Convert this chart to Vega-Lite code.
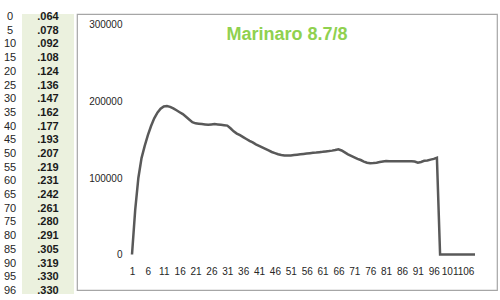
{
  "$schema": "https://vega.github.io/schema/vega-lite/v6.json",
  "padding": {"left": 0, "top": 11, "right": 4, "bottom": 0},
  "spacing": 2,
  "background": "white",
  "config": {"font": "Liberation Sans", "view": {"stroke": null}, "axis": {"labelOverlap": false, "labelFlush": false}},
  "datasets": {
    "table": [
      {"level": "0", "value": ".064"},
      {"level": "5", "value": ".078"},
      {"level": "10", "value": ".092"},
      {"level": "15", "value": ".108"},
      {"level": "20", "value": ".124"},
      {"level": "25", "value": ".136"},
      {"level": "30", "value": ".147"},
      {"level": "35", "value": ".162"},
      {"level": "40", "value": ".177"},
      {"level": "45", "value": ".193"},
      {"level": "50", "value": ".207"},
      {"level": "55", "value": ".219"},
      {"level": "60", "value": ".231"},
      {"level": "65", "value": ".242"},
      {"level": "70", "value": ".261"},
      {"level": "75", "value": ".280"},
      {"level": "80", "value": ".291"},
      {"level": "85", "value": ".305"},
      {"level": "90", "value": ".319"},
      {"level": "95", "value": ".330"},
      {"level": "96", "value": ".330"}
    ],
    "series": [
      {"t": 1, "v": 0}, {"t": 2, "v": 58000}, {"t": 3, "v": 100000}, {"t": 4, "v": 126000},
      {"t": 5, "v": 142000}, {"t": 6, "v": 156000}, {"t": 7, "v": 168000}, {"t": 8, "v": 178000},
      {"t": 9, "v": 185500}, {"t": 10, "v": 190500}, {"t": 11, "v": 193500}, {"t": 12, "v": 194000},
      {"t": 13, "v": 193000}, {"t": 14, "v": 191000}, {"t": 15, "v": 188500}, {"t": 16, "v": 186000},
      {"t": 17, "v": 183500}, {"t": 18, "v": 180000}, {"t": 19, "v": 176500}, {"t": 20, "v": 173000},
      {"t": 21, "v": 171500}, {"t": 22, "v": 171000}, {"t": 23, "v": 170500}, {"t": 24, "v": 170000},
      {"t": 25, "v": 169500}, {"t": 26, "v": 170000}, {"t": 27, "v": 170500}, {"t": 28, "v": 170000},
      {"t": 29, "v": 169500}, {"t": 30, "v": 169000}, {"t": 31, "v": 168500}, {"t": 32, "v": 165000},
      {"t": 33, "v": 161000}, {"t": 34, "v": 158000}, {"t": 35, "v": 156000}, {"t": 36, "v": 153500},
      {"t": 37, "v": 151000}, {"t": 38, "v": 148500}, {"t": 39, "v": 146500}, {"t": 40, "v": 144000},
      {"t": 41, "v": 142000}, {"t": 42, "v": 140000}, {"t": 43, "v": 138000}, {"t": 44, "v": 136000},
      {"t": 45, "v": 134000}, {"t": 46, "v": 132500}, {"t": 47, "v": 131000}, {"t": 48, "v": 130000},
      {"t": 49, "v": 129500}, {"t": 50, "v": 129300}, {"t": 51, "v": 129500}, {"t": 52, "v": 130000},
      {"t": 53, "v": 130500}, {"t": 54, "v": 131000}, {"t": 55, "v": 131500}, {"t": 56, "v": 132000},
      {"t": 57, "v": 132500}, {"t": 58, "v": 133000}, {"t": 59, "v": 133300}, {"t": 60, "v": 133800},
      {"t": 61, "v": 134200}, {"t": 62, "v": 134700}, {"t": 63, "v": 135200}, {"t": 64, "v": 135800},
      {"t": 65, "v": 136500}, {"t": 66, "v": 137500}, {"t": 67, "v": 136000}, {"t": 68, "v": 133500},
      {"t": 69, "v": 131000}, {"t": 70, "v": 129000}, {"t": 71, "v": 127000}, {"t": 72, "v": 125000},
      {"t": 73, "v": 123500}, {"t": 74, "v": 121500}, {"t": 75, "v": 120000}, {"t": 76, "v": 119200},
      {"t": 77, "v": 119500}, {"t": 78, "v": 120000}, {"t": 79, "v": 120800}, {"t": 80, "v": 121500},
      {"t": 81, "v": 122200}, {"t": 82, "v": 122000}, {"t": 83, "v": 122000}, {"t": 84, "v": 121800},
      {"t": 85, "v": 122000}, {"t": 86, "v": 122000}, {"t": 87, "v": 121800}, {"t": 88, "v": 122000},
      {"t": 89, "v": 121800}, {"t": 90, "v": 121500}, {"t": 91, "v": 120000}, {"t": 92, "v": 121000},
      {"t": 93, "v": 122500}, {"t": 94, "v": 123000}, {"t": 95, "v": 124000}, {"t": 96, "v": 125000},
      {"t": 97, "v": 126500}, {"t": 98, "v": 0}, {"t": 99, "v": 0}, {"t": 100, "v": 0},
      {"t": 101, "v": 0}, {"t": 102, "v": 0}, {"t": 103, "v": 0}, {"t": 104, "v": 0},
      {"t": 105, "v": 0}, {"t": 106, "v": 0}, {"t": 107, "v": 0}, {"t": 108, "v": 0},
      {"t": 109, "v": 0}
    ]
  },
  "hconcat": [
    {
      "width": 20,
      "height": 280,
      "data": {"name": "table"},
      "view": {"stroke": null},
      "mark": {"type": "text", "fontSize": 11, "color": "#262626", "align": "center", "baseline": "middle"},
      "encoding": {
        "y": {"field": "level", "type": "ordinal", "sort": null, "axis": null, "scale": {"type": "point", "padding": 0.22}},
        "text": {"field": "level"}
      }
    },
    {
      "width": 52,
      "height": 280,
      "data": {"name": "table"},
      "view": {"stroke": null, "fill": "#ebf1de"},
      "mark": {"type": "text", "fontSize": 11, "fontWeight": "bold", "color": "#1a1a1a", "align": "center", "baseline": "middle"},
      "encoding": {
        "y": {"field": "level", "type": "ordinal", "sort": null, "axis": null, "scale": {"type": "point", "padding": 0.22}},
        "text": {"field": "value"}
      }
    },
    {
      "width": 420,
      "height": 276,
      "view": {"stroke": "#a6a6a6", "strokeWidth": 1.2, "fill": "white"},
      "layer": [
        {
          "data": {"name": "series"},
          "encoding": {
            "x": {
              "field": "t", "type": "quantitative",
              "scale": {"domain": [-16.32, 115.92], "nice": false, "zero": false},
              "axis": {
                "orient": "bottom", "offset": -35.5, "title": null, "domain": false, "ticks": false, "grid": false,
                "values": [1, 6, 11, 16, 21, 26, 31, 36, 41, 46, 51, 56, 61, 66, 71, 76, 81, 86, 91, 96, 101, 106],
                "format": "d", "labelOverlap": false, "labelFlush": false, "labelPadding": 12,
                "labelFontSize": 10, "labelColor": "#262626"
              }
            },
            "y": {
              "field": "v", "type": "quantitative",
              "scale": {"domain": [-46405, 314379], "nice": false, "zero": false},
              "axis": {
                "orient": "left", "offset": -55, "title": null, "domain": false, "ticks": false, "grid": false,
                "values": [0, 100000, 200000, 300000], "format": "d", "labelPadding": 10,
                "labelFontSize": 10, "labelColor": "#262626", "labelFlush": false
              }
            }
          },
          "layer": [
            {
              "data": {"values": [{}]},
              "mark": {"type": "rule", "color": "#b3b3b3", "strokeWidth": 1.5},
              "encoding": {"x": {"datum": 1}, "y": {"datum": 0}, "y2": {"datum": 300000}}
            },
            {
              "data": {"values": [{}]},
              "mark": {"type": "rule", "color": "#b3b3b3", "strokeWidth": 1.5},
              "encoding": {"x": {"datum": 1}, "x2": {"datum": 109}, "y": {"datum": 0}}
            },
            {
              "mark": {"type": "line", "color": "#595959", "strokeWidth": 2.5},
              "encoding": {}
            }
          ]
        },
        {
          "data": {"values": [{}]},
          "mark": {"type": "text", "color": "#8fd14f", "fontSize": 18, "fontWeight": "bold", "align": "center", "baseline": "alphabetic"},
          "encoding": {
            "x": {
              "datum": 49.8, "type": "quantitative",
              "scale": {"domain": [-16.32, 115.92], "nice": false, "zero": false},
              "axis": {
                "orient": "bottom", "offset": -35.5, "title": null, "domain": false, "ticks": false, "grid": false,
                "values": [1, 6, 11, 16, 21, 26, 31, 36, 41, 46, 51, 56, 61, 66, 71, 76, 81, 86, 91, 96, 101, 106],
                "format": "d", "labelOverlap": false, "labelFlush": false, "labelPadding": 12,
                "labelFontSize": 10, "labelColor": "#262626"
              }
            },
            "y": {
              "datum": 280000, "type": "quantitative",
              "scale": {"domain": [-46405, 314379], "nice": false, "zero": false},
              "axis": {
                "orient": "left", "offset": -55, "title": null, "domain": false, "ticks": false, "grid": false,
                "values": [0, 100000, 200000, 300000], "format": "d", "labelPadding": 10,
                "labelFontSize": 10, "labelColor": "#262626", "labelFlush": false
              }
            },
            "text": {"value": "Marinaro 8.7/8"}
          }
        }
      ]
    }
  ]
}
